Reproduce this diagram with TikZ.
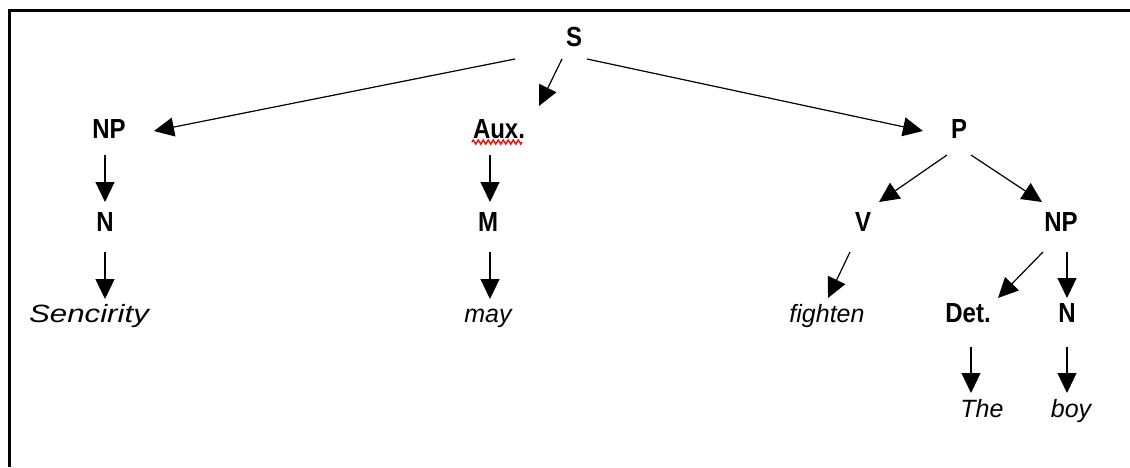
\documentclass[tikz,border=0pt]{standalone}
\usepackage{fontspec}
\setmainfont{Liberation Sans}
\usetikzlibrary{arrows.meta,calc,decorations.pathmorphing}
\newcommand\tallbox[1]{\scalebox{1}[1.15]{#1}}
\begin{document}
\begin{tikzpicture}[x=1pt,y=-1pt,
  lab/.style={inner sep=0pt,anchor=base,font=\fontsize{24}{28}\selectfont\bfseries},
  word/.style={inner sep=0pt,anchor=base,font=\fontsize{25}{29}\selectfont\itshape},
  arr/.style={line width=1.2pt,-{Triangle[length=20pt,width=19pt]}},
  frame/.style={line width=2.5pt},
  squiggle/.style={red,line width=1.4pt,decorate,decoration={zigzag,segment length=5pt,amplitude=2pt}}]
\useasboundingbox (0,0) rectangle (1130,467);
\draw[frame] (9.3,467) -- (9.3,10.7) -- (1130,10.7);
% nodes
\node[lab] (S) at (574,46) {\tallbox{S}};
\node[lab] (NP1) at (109,138) {\tallbox{NP}};
\node[lab] (Aux) at (499,138) {\tallbox{Aux.}};
\node[lab] (P) at (959,138) {\tallbox{P}};
\node[lab] (N1) at (105,231) {\tallbox{N}};
\node[lab] (M) at (488,231) {\tallbox{M}};
\node[lab] (V) at (863,231) {\tallbox{V}};
\node[lab] (NP2) at (1061,231) {\tallbox{NP}};
\node[word] (Sen) at (89,322) {\scalebox{1.25}[1]{Sencirity}};
\node[word] (may) at (488,322) {may};
\node[word] (fig) at (827,322) {fighten};
\node[lab] (Det) at (968,322) {\tallbox{Det.}};
\node[lab] (N2) at (1067,322) {\tallbox{N}};
\node[word] (The) at (982,417) {The};
\node[word] (boy) at (1071,417) {boy};
% spell-check underline
\draw[squiggle] ($(Aux.base)+(-27,4)$) -- ($(Aux.base)+(23,4)$);
% connectors
\draw[arr] ($(S.base)+(-59,13)$) -- ($(NP1.base)+(45,-7)$);
\draw[arr] ($(S.base)+(-12,13)$) -- ($(Aux.base)+(40,-32)$);
\draw[arr] ($(S.base)+(13,13)$) -- ($(P.base)+(-36,-7)$);
\draw[arr] ($(NP1.base)+(-4,17)$) -- ($(N1.base)+(0,-29)$);
\draw[arr] ($(N1.base)+(0,21)$) -- ($(N1.base)+(0,68)$);
\draw[arr] ($(Aux.base)+(-9,17)$) -- ($(M.base)+(2,-29)$);
\draw[arr] ($(M.base)+(2,21)$) -- ($(may.base)+(2,-23)$);
\draw[arr] ($(P.base)+(-12,17)$) -- ($(V.base)+(16,-29)$);
\draw[arr] ($(P.base)+(12,17)$) -- ($(NP2.base)+(-19,-29)$);
\draw[arr] ($(V.base)+(-13,21)$) -- ($(fig.base)+(1,-24)$);
\draw[arr] ($(NP2.base)+(-18,21)$) -- ($(Det.base)+(30,-24)$);
\draw[arr] ($(NP2.base)+(6,21)$) -- ($(N2.base)+(0,-24)$);
\draw[arr] ($(Det.base)+(3,25)$) -- ($(The.base)+(-11,-24)$);
\draw[arr] ($(N2.base)+(0,25)$) -- ($(boy.base)+(-4,-24)$);
\end{tikzpicture}
\end{document}
